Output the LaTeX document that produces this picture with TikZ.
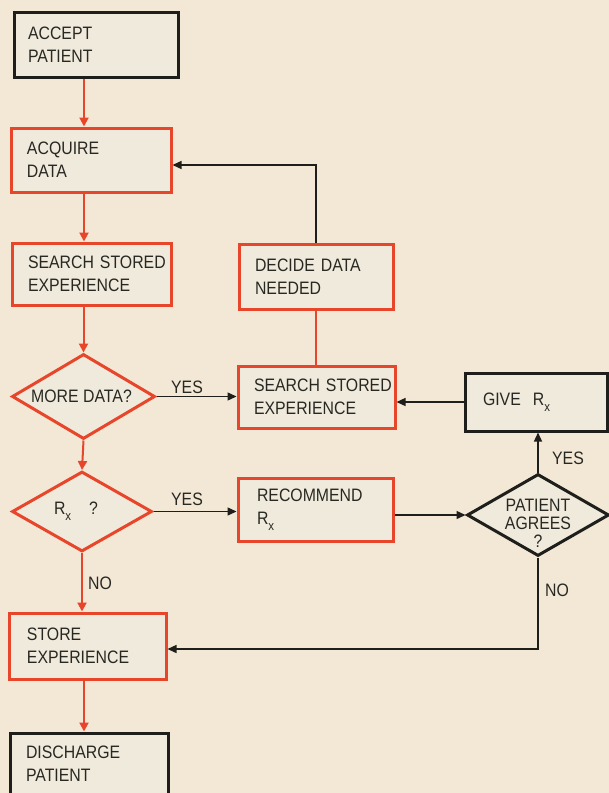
\documentclass[tikz,border=0pt]{standalone}
\usepackage{fontspec}
\setmainfont[FakeStretch=0.88]{Liberation Sans}
\usetikzlibrary{shapes.geometric,arrows.meta}
\definecolor{bg}{RGB}{243,231,214}
\definecolor{boxfill}{RGB}{240,234,220}
\definecolor{fred}{RGB}{232,70,43}
\definecolor{fblack}{RGB}{30,30,26}
\definecolor{ftext}{RGB}{40,40,34}
\newcommand\Rxsub{R\raisebox{-0.35em}{\fontsize{13}{13}\selectfont x}}
\begin{document}
\begin{tikzpicture}[x=1pt,y=-1pt,
  lbl/.style={font=\fontsize{18}{23}\selectfont, text=ftext, inner sep=0pt},
  procbox/.style={rectangle, draw=fred, line width=3pt, fill=boxfill, align=left,
    inner xsep=16pt, inner ysep=0pt, font=\fontsize{18}{23}\selectfont, text=ftext},
  termbox/.style={procbox, draw=fblack},
  decision/.style={diamond, draw=fred, line width=3pt, fill=boxfill, inner sep=0pt},
  redarrow/.style={draw=fred, line width=2pt, -{Triangle[length=9pt,width=9pt]}},
  redline/.style={draw=fred, line width=2pt},
  blkarrow/.style={draw=fblack, line width=1.4pt, -{Triangle[length=9pt,width=8pt]}}
]
\fill[bg] (0,0) rectangle (609,793);
\useasboundingbox (0,0) rectangle (609,793);

% boxes
\node[termbox, inner xsep=14pt, text width=136pt, minimum height=65pt] (accept) at (96,44.5) {ACCEPT\\PATIENT};
\node[procbox, text width=128pt, minimum height=64pt] (acquire) at (91,160) {ACQUIRE\\DATA};
\node[procbox, text width=127pt, minimum height=62pt] (search1) at (91.5,274) {SEARCH~STORED\\EXPERIENCE};
\node[procbox, text width=122pt, minimum height=65pt] (decide) at (316,276.5) {DECIDE~DATA\\NEEDED};
\node[procbox, text width=125pt, minimum height=62pt] (search2) at (316.5,397) {SEARCH~STORED\\EXPERIENCE};
\node[termbox, inner xsep=18pt, text width=106pt, minimum height=58pt] (give) at (536,402) {GIVE~~\Rxsub};
\node[procbox, inner xsep=19pt, text width=117pt, minimum height=63pt] (recommend) at (315.5,509.5) {RECOMMEND\\\Rxsub};
\node[procbox, inner xsep=18pt, text width=121pt, minimum height=66pt] (store) at (87.5,646) {STORE\\EXPERIENCE};
\node[termbox, text width=126pt, minimum height=62pt] (discharge) at (89,764) {DISCHARGE\\PATIENT};

% decisions
\node[decision, minimum width=143pt, minimum height=85pt,
  label={[lbl, xshift=-2pt]center:MORE DATA?}] (more) at (83.5,396.5) {};
\node[decision, minimum width=140pt, minimum height=80pt,
  label={[lbl, xshift=-6pt]center:{\Rxsub\quad ?}}] (rx) at (82,511.5) {};
\node[decision, draw=fblack, minimum width=142pt, minimum height=82pt,
  label={[lbl, align=center, font=\fontsize{18}{18}\selectfont, yshift=-8pt]center:{PATIENT\\AGREES\\?}}] (agrees) at (538,515) {};

% main column
\coordinate (col) at (84,0);
\draw[redarrow] (accept.south -| col) -- (acquire.north -| col);
\draw[redarrow] (acquire.south -| col) -- (search1.north -| col);
\draw[redarrow] (search1.south -| more.north) -- (more.north);
\draw[redarrow] (more.south) -- (rx.north);
\draw[redarrow] (rx.south) -- (rx.south |- store.north);
\draw[redarrow] (store.south -| col) -- (discharge.north -| col);

% side connectors
\draw[blkarrow] (more.east) -- (more.east -| search2.west);
\draw[blkarrow] (rx.east) -- (rx.east -| recommend.west);
\draw[blkarrow] (recommend.east |- agrees.west) -- (agrees.west);
\draw[blkarrow] (agrees.north) -- (agrees.north |- give.south);
\draw[blkarrow] (give.west) -- (give.west -| search2.east);
\draw[blkarrow] (agrees.south) |- ([yshift=-3pt]store.east);
\draw[blkarrow] (decide.north) |- ([yshift=-5pt]acquire.east);
\draw[redline] (decide.south) -- (decide.south |- search2.north);

% labels
\node[lbl] (yes1) at (187,387) {YES};
\node[lbl] (yes2) at (187,499) {YES};
\node[lbl] (yes3) at (568,458) {YES};
\node[lbl] (no1) at (100,583) {NO};
\node[lbl] (no2) at (557,590) {NO};
\end{tikzpicture}
\end{document}
